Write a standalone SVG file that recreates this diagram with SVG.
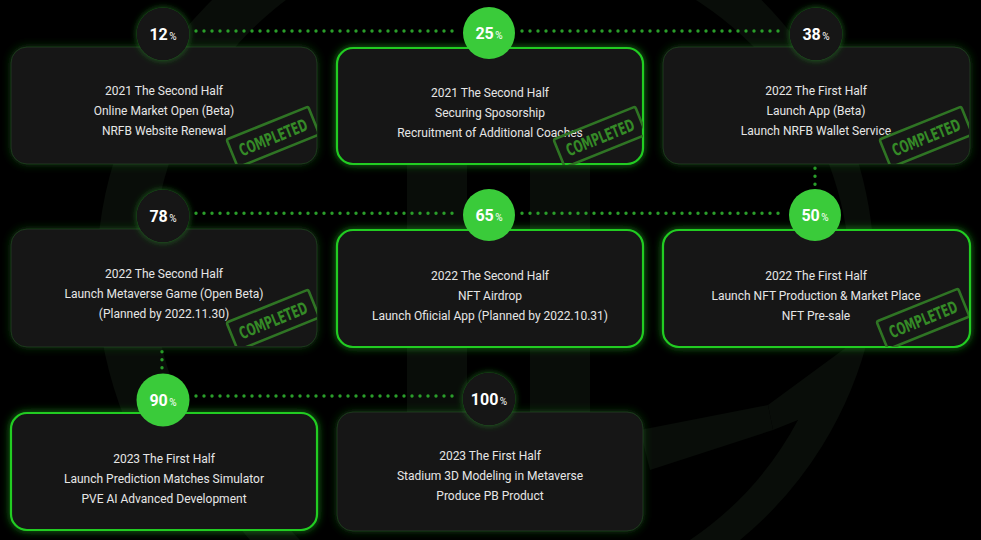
<svg xmlns="http://www.w3.org/2000/svg" width="981" height="540" viewBox="0 0 981 540">
<defs>
<style>
.card{fill:#161616;}
.dk{stroke:#2a5a2a;stroke-width:1;stroke-opacity:0.45;}
.hl{stroke:#22cc22;stroke-width:2.2;}
.t{font-family:Roboto,"Noto Sans",sans-serif;font-size:12px;fill:#e6e6e6;text-anchor:middle;}
.p{font-family:Roboto,"Noto Sans",sans-serif;font-size:16px;font-weight:bold;fill:#ffffff;text-anchor:middle;}
.ps{font-size:10px;font-weight:normal;}
.cd{fill:#161616;}
.cg{fill:#3acb3a;}
.dots{stroke:#2a9e2a;stroke-width:3.4;stroke-linecap:round;stroke-dasharray:0 8;fill:none;}
.stamp rect{fill:none;stroke:#2f7424;stroke-width:2.6;}
.stamp text{font-family:"DejaVu Sans","Liberation Sans",sans-serif;font-weight:bold;font-size:17px;fill:#358a27;text-anchor:middle;}
.bg{fill:#090d09;}
</style>
<filter id="glowDark" x="-20%" y="-30%" width="140%" height="160%">
<feGaussianBlur in="SourceAlpha" stdDeviation="5" result="b"/>
<feFlood flood-color="#1f7a1f" flood-opacity="0.5"/>
<feComposite in2="b" operator="in" result="g"/>
<feMerge><feMergeNode in="g"/><feMergeNode in="SourceGraphic"/></feMerge>
</filter>
<filter id="glowHl" x="-20%" y="-30%" width="140%" height="160%">
<feGaussianBlur in="SourceAlpha" stdDeviation="4" result="b"/>
<feFlood flood-color="#22d022" flood-opacity="0.6"/>
<feComposite in2="b" operator="in" result="g"/>
<feMerge><feMergeNode in="g"/><feMergeNode in="SourceGraphic"/></feMerge>
</filter>
<filter id="glowC" x="-40%" y="-40%" width="180%" height="180%">
<feGaussianBlur in="SourceAlpha" stdDeviation="3" result="b"/>
<feFlood flood-color="#2aa02a" flood-opacity="0.6"/>
<feComposite in2="b" operator="in" result="g"/>
<feMerge><feMergeNode in="g"/><feMergeNode in="SourceGraphic"/></feMerge>
</filter>
<clipPath id="cardClip"><rect x="0" y="0" width="306" height="117" rx="16"/></clipPath>
<g id="stampShape" class="stamp">
<g transform="rotate(-22)">
<rect x="-44" y="-15" width="88" height="30" rx="2"/>
<text x="0" y="6.5" textLength="72" lengthAdjust="spacingAndGlyphs">COMPLETED</text>
</g>
</g>
</defs>
<rect width="981" height="540" fill="#000"/>
<g id="background-logo">
<path class="bg" d="M 150 470 A 385 385 0 0 1 260 -40 L 300 -10 A 335 335 0 0 0 200 440 Z"/>
<path class="bg" d="M 700 -50 A 385 385 0 0 1 870 330 L 850 300 A 335 335 0 0 0 660 -20 Z"/>
<path class="bg" d="M 870 330 A 385 385 0 0 1 740 540 L 690 540 A 335 335 0 0 0 798 420 L 773 430 L 768 405 Z"/>
<path class="bg" d="M 640 430 L 768 405 L 773 430 L 650 470 Z"/>
<rect class="bg" x="407" y="160" width="60" height="260"/>
<rect class="bg" x="530" y="160" width="60" height="260"/>
<path class="bg" d="M 250 540 A 385 385 0 0 1 200 470 L 240 460 A 335 335 0 0 0 300 540 Z"/>
</g>
<g id="connectors">
<line class="dots" x1="196" y1="31" x2="460" y2="31"/>
<line class="dots" x1="522" y1="31" x2="786" y2="31"/>
<line class="dots" x1="815" y1="168.3" x2="815" y2="186"/>
<line class="dots" x1="196" y1="213.3" x2="460" y2="213.3"/>
<line class="dots" x1="522" y1="213.3" x2="786" y2="213.3"/>
<line class="dots" x1="162" y1="351.7" x2="162" y2="369"/>
<line class="dots" x1="196" y1="396" x2="460" y2="396"/>
</g>
<g id="card-1" transform="translate(11,47)">
<rect class="card dk" width="306" height="117" rx="16" filter="url(#glowDark)"/>
<text class="t" x="153" y="47.5">2021 The Second Half</text>
<text class="t" x="153" y="67.5">Online Market Open (Beta)</text>
<text class="t" x="153" y="87.5">NRFB Website Renewal</text>
<g clip-path="url(#cardClip)"><use href="#stampShape" x="262" y="90"/></g>
</g>
<g id="card-2" transform="translate(337,48)">
<rect class="card hl" width="306" height="116" rx="16" filter="url(#glowHl)"/>
<text class="t" x="153" y="48.5">2021 The Second Half</text>
<text class="t" x="153" y="68.5">Securing Sposorship</text>
<text class="t" x="153" y="88.5">Recruitment of Additional Coaches</text>
<g clip-path="url(#cardClip)"><use href="#stampShape" x="263" y="89"/></g>
</g>
<g id="card-3" transform="translate(663,47)">
<rect class="card dk" width="307" height="117" rx="16" filter="url(#glowDark)"/>
<text class="t" x="153" y="47.5">2022 The First Half</text>
<text class="t" x="153" y="67.5">Launch App (Beta)</text>
<text class="t" x="153" y="87.5">Launch NRFB Wallet Service</text>
<g clip-path="url(#cardClip)"><use href="#stampShape" x="263" y="90"/></g>
</g>
<g id="card-4" transform="translate(11,229)">
<rect class="card dk" width="306" height="118" rx="16" filter="url(#glowDark)"/>
<text class="t" x="153" y="48.5">2022 The Second Half</text>
<text class="t" x="153" y="68.5">Launch Metaverse Game (Open Beta)</text>
<text class="t" x="153" y="88.5">(Planned by 2022.11.30)</text>
<g clip-path="url(#cardClip)"><use href="#stampShape" x="262" y="91"/></g>
</g>
<g id="card-5" transform="translate(337,230)">
<rect class="card hl" width="306" height="117" rx="16" filter="url(#glowHl)"/>
<text class="t" x="153" y="49.5">2022 The Second Half</text>
<text class="t" x="153" y="69.5">NFT Airdrop</text>
<text class="t" x="153" y="89.5">Launch Ofiicial App (Planned by 2022.10.31)</text>
</g>
<g id="card-6" transform="translate(663,230)">
<rect class="card hl" width="307" height="117" rx="16" filter="url(#glowHl)"/>
<text class="t" x="153" y="49.5">2022 The First Half</text>
<text class="t" x="153" y="69.5">Launch NFT Production &amp; Market Place</text>
<text class="t" x="153" y="89.5">NFT Pre-sale</text>
<g clip-path="url(#cardClip)"><use href="#stampShape" x="260" y="89"/></g>
</g>
<g id="card-7" transform="translate(11,413)">
<rect class="card hl" width="306" height="117" rx="16" filter="url(#glowHl)"/>
<text class="t" x="153" y="49.5">2023 The First Half</text>
<text class="t" x="153" y="69.5">Launch Prediction Matches Simulator</text>
<text class="t" x="153" y="89.5">PVE AI Advanced Development</text>
</g>
<g id="card-8" transform="translate(337,412)">
<rect class="card dk" width="306" height="119" rx="16" filter="url(#glowDark)"/>
<text class="t" x="153" y="47.5">2023 The First Half</text>
<text class="t" x="153" y="67.5">Stadium 3D Modeling in Metaverse</text>
<text class="t" x="153" y="87.5">Produce PB Product</text>
</g>
<g id="badge-12"><circle class="cd" cx="163" cy="34" r="26.5" filter="url(#glowC)"/><text class="p" x="163" y="39.5">12<tspan class="ps" dx="1.5">%</tspan></text></g>
<g id="badge-25"><circle class="cg" cx="489" cy="33" r="26"/><text class="p" x="489" y="38.5">25<tspan class="ps" dx="1.5">%</tspan></text></g>
<g id="badge-38"><circle class="cd" cx="816" cy="34" r="26.5" filter="url(#glowC)"/><text class="p" x="816" y="39.5">38<tspan class="ps" dx="1.5">%</tspan></text></g>
<g id="badge-78"><circle class="cd" cx="163" cy="216" r="26.5" filter="url(#glowC)"/><text class="p" x="163" y="221.5">78<tspan class="ps" dx="1.5">%</tspan></text></g>
<g id="badge-65"><circle class="cg" cx="489" cy="215" r="26"/><text class="p" x="489" y="220.5">65<tspan class="ps" dx="1.5">%</tspan></text></g>
<g id="badge-50"><circle class="cg" cx="815" cy="215" r="26"/><text class="p" x="815" y="220.5">50<tspan class="ps" dx="1.5">%</tspan></text></g>
<g id="badge-90"><circle class="cg" cx="163" cy="400" r="26.5"/><text class="p" x="163" y="405.5">90<tspan class="ps" dx="1.5">%</tspan></text></g>
<g id="badge-100"><circle class="cd" cx="489" cy="399" r="26.5" filter="url(#glowC)"/><text class="p" x="489" y="404.5">100<tspan class="ps" dx="1.5">%</tspan></text></g>
</svg>
